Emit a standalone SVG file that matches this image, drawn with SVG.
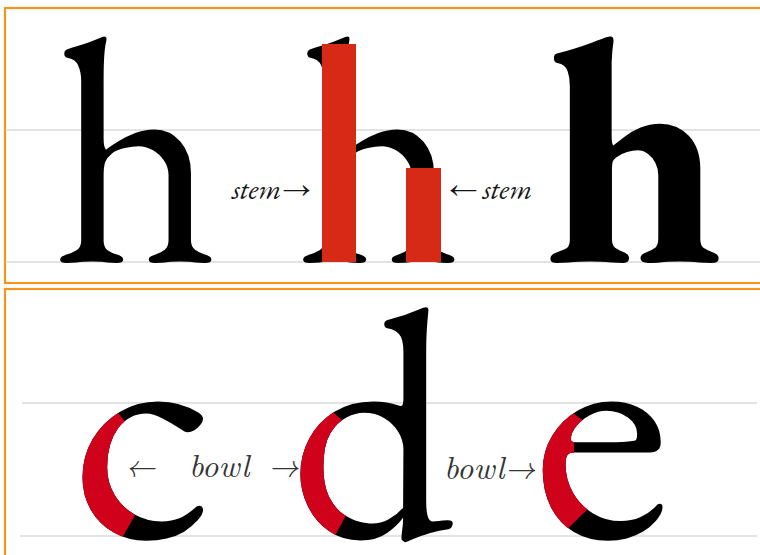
<svg xmlns="http://www.w3.org/2000/svg" xmlns:xlink="http://www.w3.org/1999/xlink" width="760" height="555" viewBox="0 0 760 555">
<style>
.panel{fill:#fff;stroke:#f7941d;stroke-width:2.2}
.guide{stroke:#dadada;stroke-width:1.3}
.big{font-family:"EB Garamond","Liberation Serif",serif;font-size:320px}
.big2{font-family:"EB Garamond","Liberation Serif",serif;font-size:325px}
.lbl{font-family:"EB Garamond","Liberation Serif",serif;font-style:italic;font-size:29px;fill:#151515}
.lbl2{font-family:"Latin Modern Roman","Liberation Serif",serif;font-style:italic;font-size:32px;fill:#333}
.red{fill:#d62a17}
</style>
<defs>
<text id="tc" class="big2" x="0" y="536">c</text>
<text id="td" class="big2" font-size="330" x="289" y="536">d</text>
<text id="te" class="big2" x="0" y="536">e</text>
<clipPath id="clipC"><polygon points="60,380 90,380 150,451 150,489 118,545 60,545"/></clipPath>
<clipPath id="clipD"><polygon points="280,385 303,385 365,441 365,480 330,545 280,545"/></clipPath>
<clipPath id="clipE"><polygon points="520,395 548,395 588,424 577,441 574,441 574,462 594,503 551,545 520,545"/></clipPath>
</defs>
<rect class="panel" x="5" y="8" width="765" height="275"/>
<rect class="panel" x="5" y="289" width="765" height="280"/>
<g id="guides">
<line class="guide" x1="7" y1="130" x2="760" y2="130"/>
<line class="guide" x1="7" y1="262" x2="760" y2="262"/>
<line class="guide" x1="22" y1="403" x2="757" y2="403"/>
<line class="guide" x1="20" y1="536" x2="757" y2="536"/>
</g>
<g id="h-regular"><text class="big" x="54" y="262">h</text></g>
<g id="h-stems"><text class="big" x="297" y="262">h</text>
<rect class="red" x="322" y="44" width="34" height="218"/>
<rect class="red" x="406" y="168" width="35" height="94"/></g>
<g id="h-bold"><text class="big" font-weight="bold" x="545" y="262">h</text></g>
<g id="c-bowl"><use xlink:href="#tc" fill="#000" transform="translate(70,0) scale(1.1,1)"/><g clip-path="url(#clipC)"><use xlink:href="#tc" fill="#d0011b" transform="translate(70,0) scale(1.1,1)"/></g></g>
<g id="d-bowl"><use xlink:href="#td" fill="#000"/><g clip-path="url(#clipD)"><use xlink:href="#td" fill="#d0011b"/></g></g>
<g id="e-bowl"><use xlink:href="#te" fill="#000" transform="translate(532,0) scale(1.1,1)"/><g clip-path="url(#clipE)"><use xlink:href="#te" fill="#d0011b" transform="translate(532,0) scale(1.1,1)"/></g></g>
<g id="connectors">
<text class="lbl" x="232" y="199">stem→</text>
<text class="lbl" x="448" y="199">← stem</text>
<text class="lbl2" x="125" y="477">←</text>
<text class="lbl2" x="189" y="477">bowl</text>
<text class="lbl2" x="268" y="477">→</text>
<text class="lbl2" x="444" y="479">bowl→</text>
</g>
</svg>
